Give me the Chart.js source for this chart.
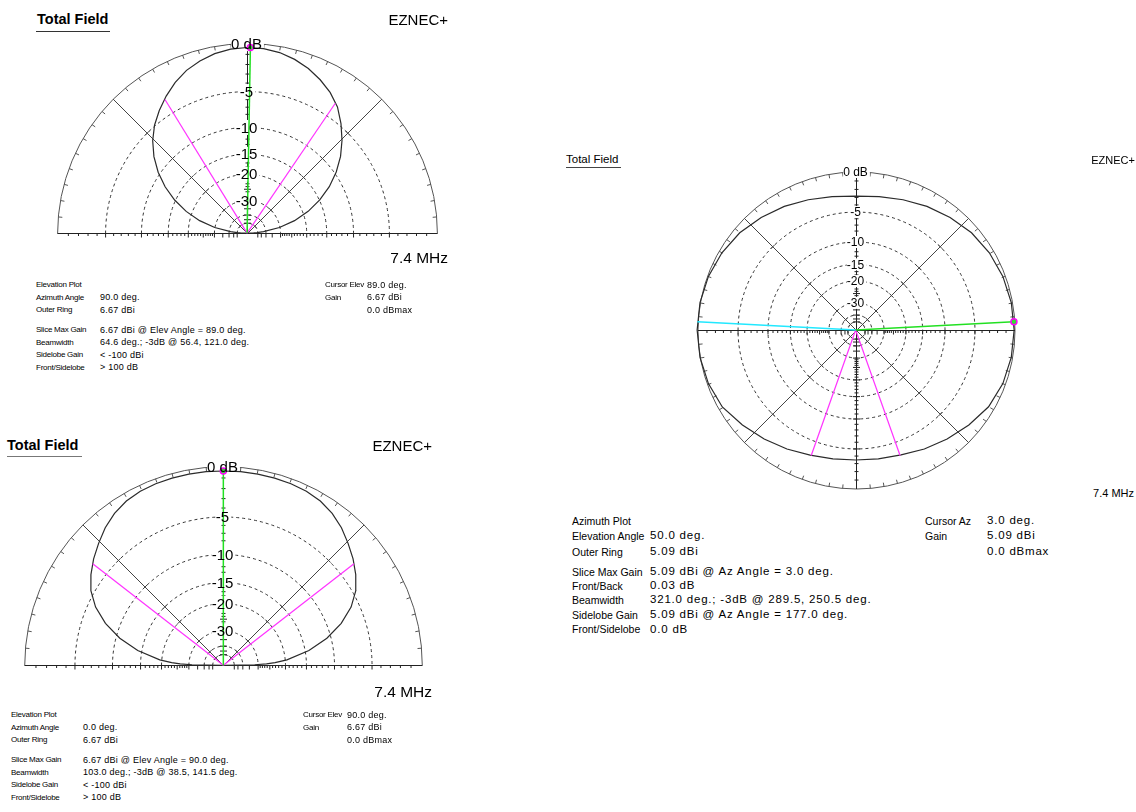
<!DOCTYPE html>
<html>
<head>
<meta charset="utf-8">
<title>EZNEC+ Total Field</title>
<script src="https://cdn.jsdelivr.net/npm/chart.js@4.4.1/dist/chart.umd.min.js"></script>
<style>
  body { margin: 0; background: #fff; }
  #page { position: relative; width: 1136px; height: 812px; overflow: hidden; background: #fff;
          font-family: "Liberation Sans", Arial, sans-serif; color: #000; }
  #page canvas { position: absolute; }
  .txt { position: absolute; white-space: nowrap; }
  .rule { position: absolute; height: 0; }
</style>
</head>
<body>
<div id="page">
  <canvas id="elevTop" width="420" height="230" style="left:40px;top:30px"></canvas>
  <canvas id="elevBottom" width="430" height="232" style="left:10px;top:455px"></canvas>
  <canvas id="azPlot" width="360" height="360" style="left:680px;top:150px"></canvas>
</div>
<script>
// ---------------------------------------------------------
//  Chart data (gain in dB relative to the outer ring)
// ---------------------------------------------------------
// elevation angles, deg (0 = horizon on the right)
const elevAngles = [0, 1, 2, 3, 5, 10, 15, 20, 25, 30, 35, 40, 45, 50, 55, 60, 65, 70, 75, 80, 85, 90,
                    95, 100, 105, 110, 115, 120, 125, 130, 135, 140, 145, 150, 155, 160, 165, 170, 175,
                    177, 178, 179, 180];
// elevation plot, azimuth 90 deg
const topGain = [-100, -69.5, -57.6, -50.7, -41.9, -30.1, -23.2, -18.4, -14.8, -11.9, -9.55, -7.59, -5.95,
                 -4.5, -3.2, -2.3, -1.6, -1.0, -0.55, -0.22, -0.05, -0.01,
                 -0.1, -0.32, -0.7, -1.2, -1.9, -2.75, -3.7, -4.75, -6.05, -7.65, -9.6, -11.95, -14.85,
                 -18.45, -23.2, -30.1, -41.9, -50.7, -57.6, -69.5, -100];
// elevation plot, azimuth 0 deg
const bottomGain = [-100, -31.7, -26.2, -23.1, -19.5, -14.2, -10.6, -7.9, -5.9, -4.5, -3.55, -2.75, -2.05,
                    -1.35, -0.8, -0.42, -0.2, -0.1, -0.05, -0.02, 0, 0,
                    0, -0.02, -0.05, -0.1, -0.2, -0.42, -0.8, -1.35, -2.05, -2.75, -3.55, -4.5, -5.9,
                    -7.9, -10.6, -14.2, -19.5, -23.1, -26.2, -31.7, -100];
// azimuth plot, elevation 50 deg
const azAngles = [0, 10, 20, 30, 40, 50, 60, 70, 80, 90, 100, 110, 120, 130, 140, 150, 160, 170, 180,
                  190, 200, 210, 220, 230, 240, 250, 260, 270, 280, 290, 300, 310, 320, 330, 340, 350, 360];
const azGain = [0, -0.05, -0.2, -0.45, -0.8, -1.3, -1.8, -2.3, -2.7, -2.9, -2.7, -2.3, -1.8, -1.3, -0.8,
                -0.45, -0.2, -0.05, 0, -0.05, -0.2, -0.5, -1.2, -1.85, -2.45, -3.0, -3.3, -3.4, -3.3,
                -3.02, -2.45, -1.85, -1.2, -0.55, -0.2, -0.05, 0];

// -3 dB beamwidth lines and cursor angles, deg
const topBeam = [56.4, 121.0];
const bottomBeam = [38.5, 141.5];
const azBeam = [289.5, 250.5];
const topCursor = 89.0;
const bottomCursor = 90.0;
const azCursor = 3.0;
const azSidelobe = 177.0;

// scale rings and their labels
const ringDb = [-5, -10, -15, -20, -30, -40, -50];
const ringLabelDb = [0, -5, -10, -15, -20, -30];
const ringLabels = ['0 dB', '-5', '-10', '-15', '-20', '-30'];

// ARRL log scale: radius shrinks by 0.89 every 2 dB
function arrl(db) { return Math.pow(0.89, Math.abs(db) / 2); }
function polar(deg, db) {
    const t = deg * Math.PI / 180, r = arrl(db);
    return { x: r * Math.cos(t), y: r * Math.sin(t) };
}

function plotGeometry(chart) {
    const sx = chart.scales.x, sy = chart.scales.y;
    return {
        cx: Math.round(sx.getPixelForValue(0)) + 0.5,
        cy: Math.round(sy.getPixelForValue(0)) + 0.5,
        R: sx.getPixelForValue(1) - sx.getPixelForValue(0)
    };
}

// ---------------------------------------------------------
//  Grid plugin: rings, spokes, axes, ticks, labels
// ---------------------------------------------------------
const eznecGrid = {
    id: 'eznecGrid',
    beforeDatasetsDraw(chart, args, o) {
        const ctx = chart.ctx;
        const { cx, cy, R } = plotGeometry(chart);
        const full = o.full;
        const a0 = full ? 0 : Math.PI;
        ctx.save();
        ctx.lineWidth = 1;

        // dashed rings
        ctx.strokeStyle = '#333';
        ctx.setLineDash([3, 3]);
        ringDb.forEach(db => {
            ctx.beginPath();
            ctx.arc(cx, cy, R * arrl(db), a0, 2 * Math.PI);
            ctx.stroke();
        });
        ctx.setLineDash([]);

        // outer ring + ticks every 5 deg
        ctx.strokeStyle = '#555';
        ctx.beginPath();
        ctx.arc(cx, cy, R, a0, 2 * Math.PI);
        ctx.stroke();
        ctx.beginPath();
        for (let a = 0; a <= (full ? 355 : 180); a += 5) {
            const t = a * Math.PI / 180, c = Math.cos(t), s = -Math.sin(t);
            ctx.moveTo(cx + c * R, cy + s * R);
            ctx.lineTo(cx + c * (R - 4), cy + s * (R - 4));
        }
        ctx.stroke();

        // diagonal spokes with ticks on the rings
        ctx.strokeStyle = '#444';
        const spokes = full ? [45, 135, 225, 315] : [45, 135];
        ctx.beginPath();
        spokes.forEach(a => {
            const t = a * Math.PI / 180, c = Math.cos(t), s = -Math.sin(t);
            ctx.moveTo(cx, cy);
            ctx.lineTo(cx + c * R, cy + s * R);
            ringDb.forEach(db => {
                const r = R * arrl(db);
                ctx.moveTo(cx + c * r - s * 3, cy + s * r + c * 3);
                ctx.lineTo(cx + c * r + s * 3, cy + s * r - c * 3);
            });
        });
        ctx.stroke();

        // axes
        ctx.strokeStyle = '#222';
        ctx.beginPath();
        ctx.moveTo(cx - R, cy); ctx.lineTo(cx + R, cy);
        ctx.moveTo(cx, cy - R); ctx.lineTo(cx, full ? cy + R : cy);
        for (let d = 1; d <= 50; d++) {
            if (d > 30 && d % 5) continue;
            const r = R * arrl(-d), big = d % 5 === 0;
            const len = big ? 4 : 2.5;
            // horizontal axis, ticks below
            ctx.moveTo(cx - r, cy); ctx.lineTo(cx - r, cy + len);
            ctx.moveTo(cx + r, cy); ctx.lineTo(cx + r, cy + len);
            // vertical axis, ticks across
            const w = big ? 3.5 : 2;
            ctx.moveTo(cx - w, cy - r); ctx.lineTo(cx + w, cy - r);
            if (full) { ctx.moveTo(cx - w, cy + r); ctx.lineTo(cx + w, cy + r); }
        }
        ctx.stroke();

        // white boxes behind the ring labels
        ctx.font = o.labelSize + 'px "Liberation Sans", Arial, sans-serif';
        ctx.fillStyle = '#fff';
        ringLabelDb.forEach((db, i) => {
            const y = cy - R * arrl(db);
            const tw = ctx.measureText(ringLabels[i]).width;
            ctx.fillRect(cx - tw / 2 - 1, y - o.labelSize / 2, tw + 2, o.labelSize);
        });
        ctx.restore();
    },
    afterDatasetsDraw(chart, args, o) {
        const ctx = chart.ctx;
        const { cx, cy, R } = plotGeometry(chart);
        ctx.save();
        ctx.font = o.labelSize + 'px "Liberation Sans", Arial, sans-serif';
        ctx.textAlign = 'center';
        ctx.textBaseline = 'middle';
        ctx.fillStyle = '#000';
        ringLabelDb.forEach((db, i) => {
            ctx.fillText(ringLabels[i], cx - 1, cy - R * arrl(db) + 1);
        });
        ctx.restore();
    }
};

function line(data, color, width) {
    return { data: data, showLine: true, borderColor: color, borderWidth: width,
             pointRadius: 0, fill: false };
}

function makePlot(id, cx, cy, R, full, labelSize, angles, gains, beam, cursor, sidelobe) {
    const canvas = document.getElementById(id);
    const w = canvas.width, h = canvas.height;
    const origin = { x: 0, y: 0 };
    const datasets = [];
    // cursor marker
    datasets.push({ data: [polar(cursor, 0)], showLine: false, pointRadius: 3,
                    pointBackgroundColor: '#33dd33', pointBorderColor: '#ff00ff', pointBorderWidth: 1.5 });
    datasets.push(line([origin, polar(cursor, 0)], '#22e022', 1.5));
    if (sidelobe !== null) datasets.push(line([origin, polar(sidelobe, 0)], '#22e8ff', 1.5));
    beam.forEach(a => datasets.push(line([origin, polar(a, -3)], '#ff33ff', 1.2)));
    datasets.push(line(angles.map((a, i) => polar(a, gains[i])), '#2b2b2b', 1.2));

    return new Chart(canvas, {
        type: 'scatter',
        data: { datasets: datasets },
        options: {
            responsive: false,
            animation: false,
            devicePixelRatio: 1,
            events: [],
            layout: { padding: 0 },
            scales: {
                x: { type: 'linear', display: false, min: -cx / R, max: (w - cx) / R },
                y: { type: 'linear', display: false, min: -(h - cy) / R, max: cy / R }
            },
            plugins: {
                legend: { display: false },
                tooltip: { enabled: false },
                eznecGrid: { full: full, labelSize: labelSize }
            }
        },
        plugins: [eznecGrid]
    });
}

// centre of each plot inside its canvas, outer radius in px
makePlot('elevTop', 207, 207.5, 195, false, 15, elevAngles, topGain, topBeam, topCursor, null);
makePlot('elevBottom', 213.3, 215, 204, false, 15, elevAngles, bottomGain, bottomBeam, bottomCursor, null);
makePlot('azPlot', 175.5, 180, 163.5, true, 12, azAngles, azGain, azBeam, azCursor, azSidelobe);

// ---------------------------------------------------------
//  Text
// ---------------------------------------------------------
const page = document.getElementById('page');
function addText(x, y, text, size, opts) {
    opts = opts || {};
    const d = document.createElement('div');
    d.className = 'txt';
    d.textContent = text;
    d.style.fontSize = size + 'px';
    d.style.lineHeight = (size * 1.2) + 'px';
    d.style.top = (y - size * 0.59) + 'px';
    if (opts.right) d.style.right = (1136 - x) + 'px';
    else d.style.left = x + 'px';
    if (opts.bold) d.style.fontWeight = 'bold';
    if (opts.spacing) d.style.letterSpacing = opts.spacing + 'px';
    page.appendChild(d);
}
function addRule(x1, x2, y, color, thick) {
    const d = document.createElement('div');
    d.className = 'rule';
    d.style.left = x1 + 'px';
    d.style.width = (x2 - x1) + 'px';
    d.style.top = y + 'px';
    d.style.borderTop = thick + 'px solid ' + color;
    page.appendChild(d);
}
// label column is narrow, value column wide (like the bitmap font of the original)
function addBlock(x1, x2, rows, lines, st) {
    lines.forEach((ln, i) => {
        if (!ln) return;
        if (ln[0]) addText(x1, rows[i], ln[0], st.labelSize, { spacing: st.labelSpacing });
        if (ln[1]) addText(x2, rows[i], ln[1], st.valueSize, { spacing: st.valueSpacing });
    });
}

// headers
addText(37, 20, 'Total Field', 14.5, { bold: true });
addRule(36, 110, 30.5, '#333', 1.5);
addText(448, 20, 'EZNEC+', 15, { right: true });
addText(448, 258, '7.4 MHz', 15.5, { right: true });

addText(7, 445.5, 'Total Field', 14.5, { bold: true });
addRule(7, 82, 456, '#777', 1.5);
addText(432, 445.5, 'EZNEC+', 15, { right: true });
addText(432, 692, '7.4 MHz', 15.5, { right: true });

addText(566, 160, 'Total Field', 11.5);
addRule(566, 621, 167, '#444', 1);
addText(1135, 160, 'EZNEC+', 11, { right: true });
addText(1134, 493, '7.4 MHz', 11, { right: true });

// info blocks
const smallStyle = { labelSize: 8, labelSpacing: -0.25, valueSize: 9, valueSpacing: 0.25 };
const bigStyle = { labelSize: 10.5, labelSpacing: 0, valueSize: 11.5, valueSpacing: 0.8 };

const topRows = [285, 297.7, 310, 330, 342.3, 355, 367.7];
addBlock(36, 100, topRows, [
    ['Elevation Plot'], ['Azimuth Angle', '90.0 deg.'], ['Outer Ring', '6.67 dBi'],
    ['Slice Max Gain', '6.67 dBi @ Elev Angle = 89.0 deg.'],
    ['Beamwidth', '64.6 deg.; -3dB @ 56.4, 121.0 deg.'],
    ['Sidelobe Gain', '< -100 dBi'], ['Front/Sidelobe', '> 100 dB']], smallStyle);
addBlock(325, 367, topRows, [['Cursor Elev', '89.0 deg.'], ['Gain', '6.67 dBi'], [null, '0.0 dBmax']],
         smallStyle);

const bottomRows = [715, 727.7, 740, 760, 772.7, 785, 797.3];
addBlock(11, 83, bottomRows, [
    ['Elevation Plot'], ['Azimuth Angle', '0.0 deg.'], ['Outer Ring', '6.67 dBi'],
    ['Slice Max Gain', '6.67 dBi @ Elev Angle = 90.0 deg.'],
    ['Beamwidth', '103.0 deg.; -3dB @ 38.5, 141.5 deg.'],
    ['Sidelobe Gain', '< -100 dBi'], ['Front/Sidelobe', '> 100 dB']], smallStyle);
addBlock(303, 347, bottomRows, [['Cursor Elev', '90.0 deg.'], ['Gain', '6.67 dBi'], [null, '0.0 dBmax']],
         smallStyle);

const azRows = [520.7, 536, 551.7, 571.7, 586, 600, 615, 629.3];
addBlock(572, 650, azRows, [
    ['Azimuth Plot'], ['Elevation Angle', '50.0 deg.'], ['Outer Ring', '5.09 dBi'],
    ['Slice Max Gain', '5.09 dBi @ Az Angle = 3.0 deg.'],
    ['Front/Back', '0.03 dB'],
    ['Beamwidth', '321.0 deg.; -3dB @ 289.5, 250.5 deg.'],
    ['Sidelobe Gain', '5.09 dBi @ Az Angle = 177.0 deg.'],
    ['Front/Sidelobe', '0.0 dB']], bigStyle);
addBlock(925, 987, azRows, [['Cursor Az', '3.0 deg.'], ['Gain', '5.09 dBi'], [null, '0.0 dBmax']], bigStyle);
</script>
</body>
</html>
